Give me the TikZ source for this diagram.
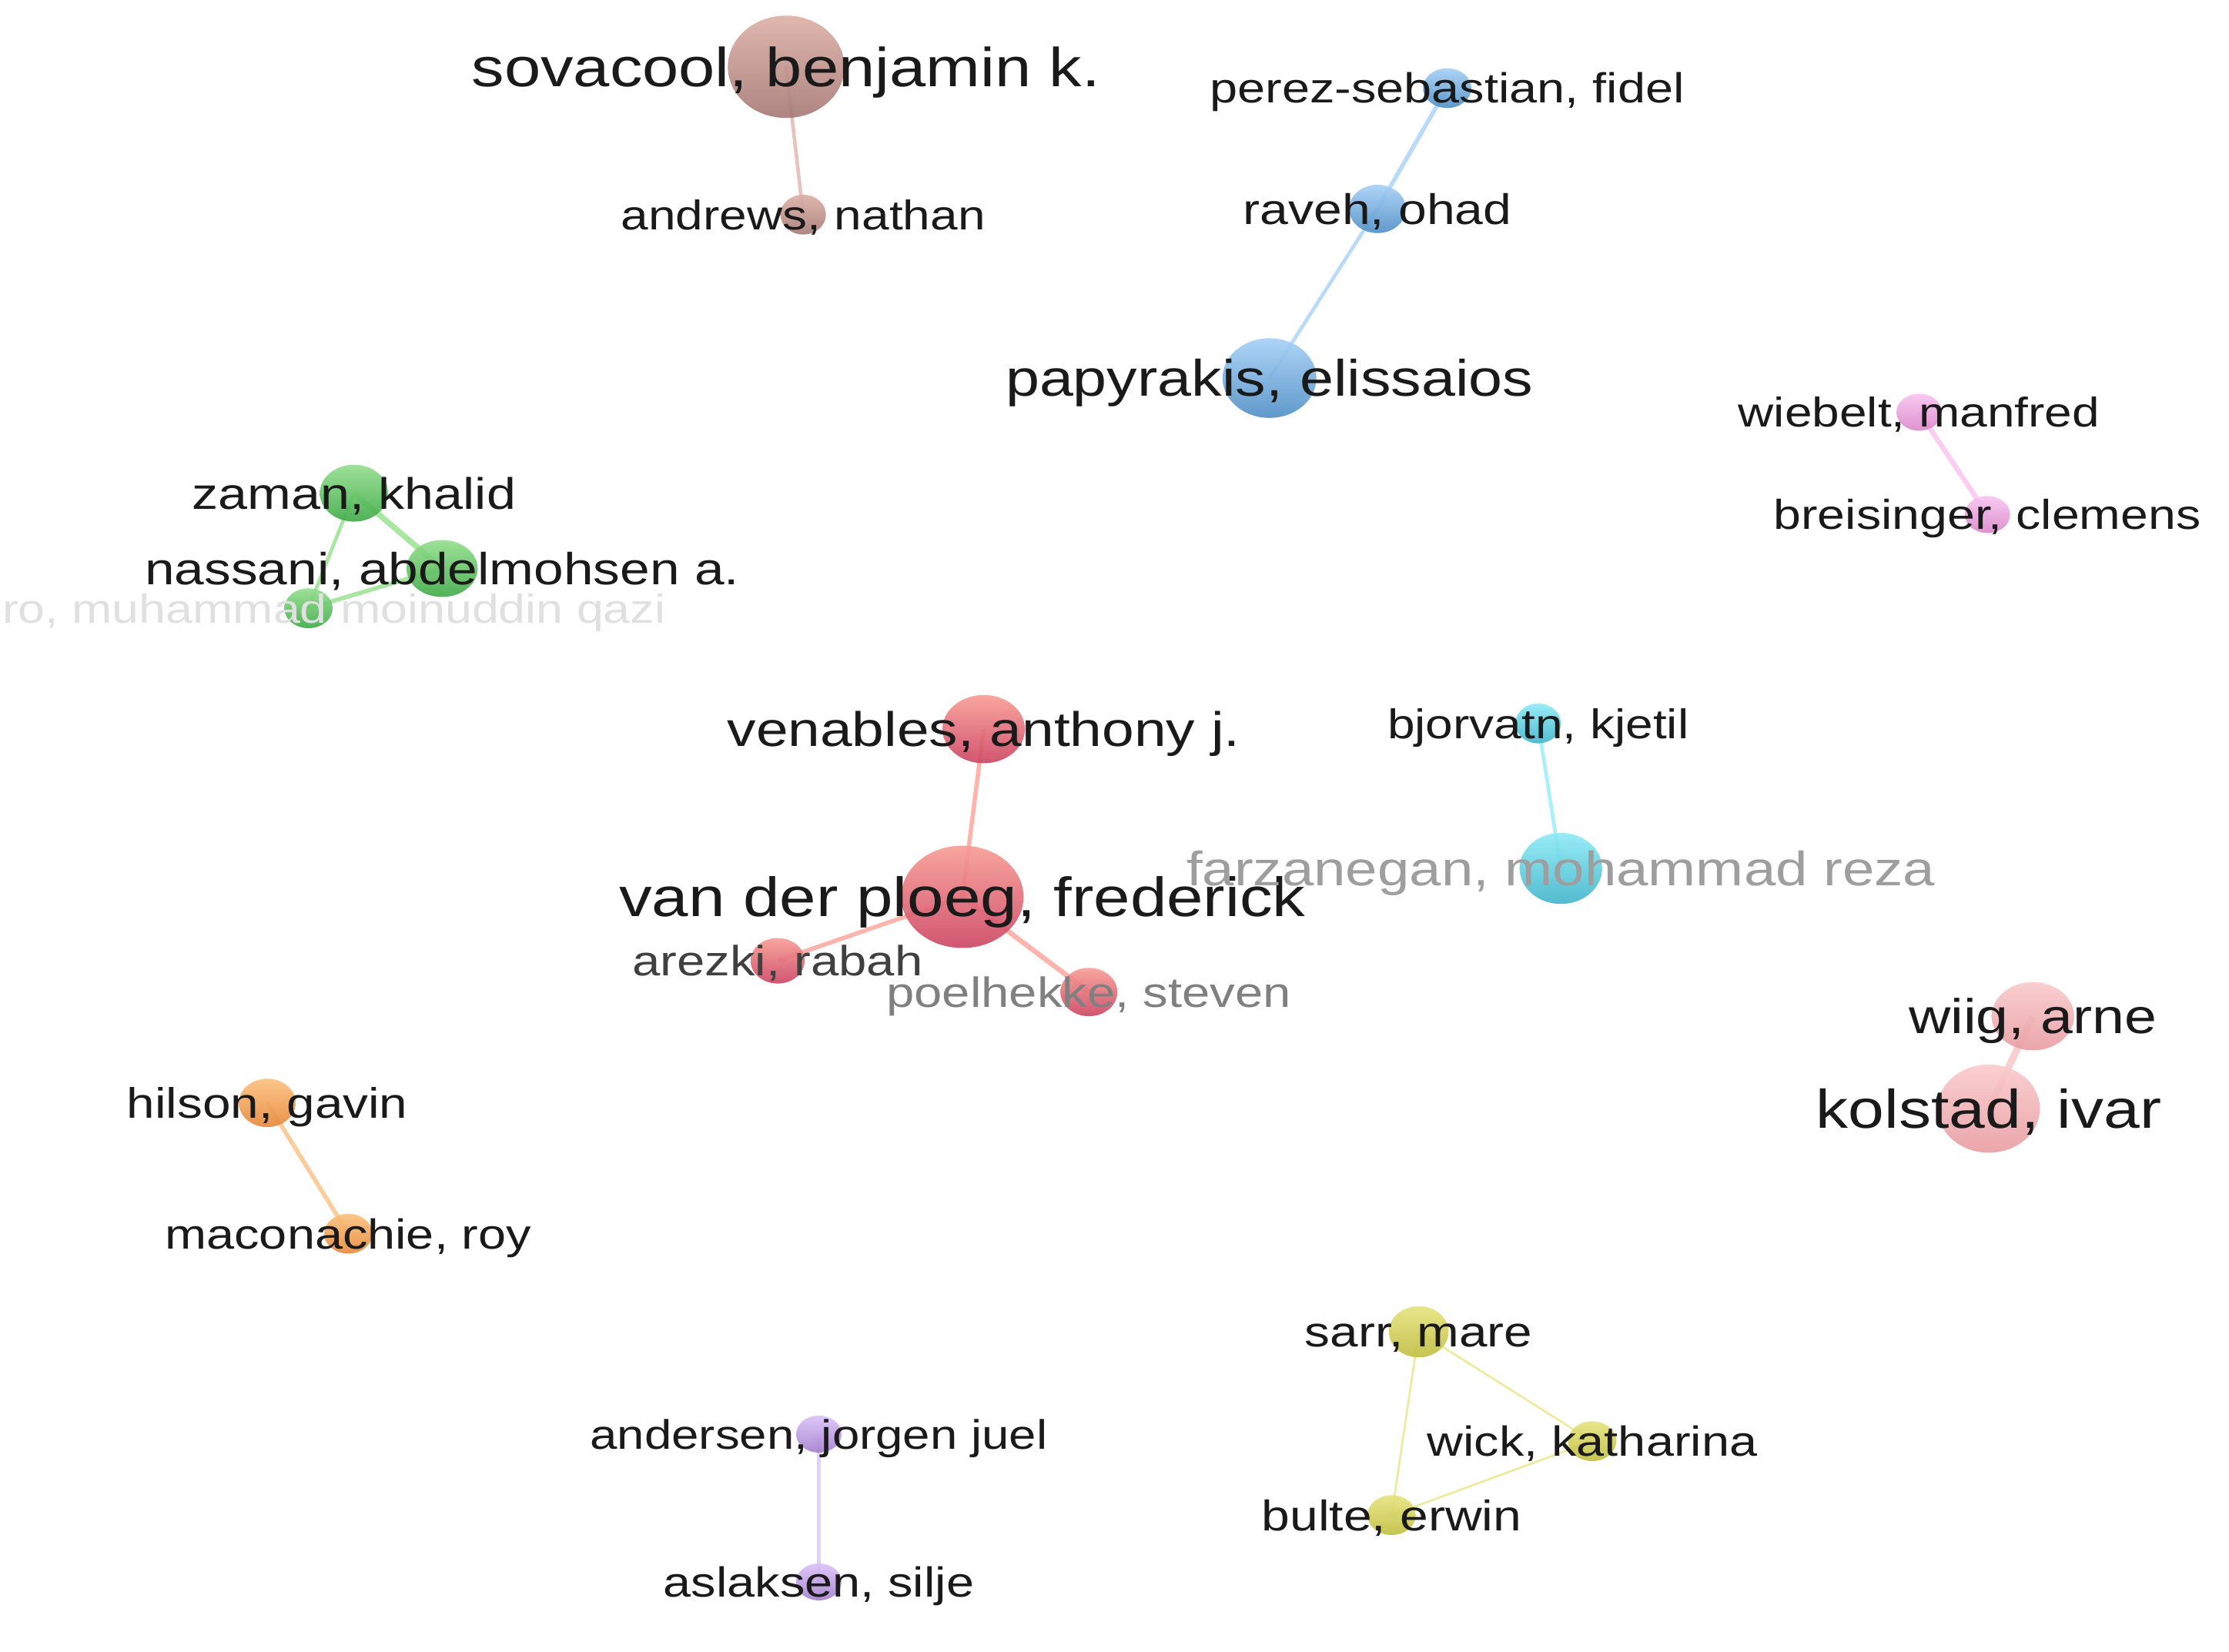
\documentclass[tikz,border=0pt]{standalone}
\usepackage{fontspec}
\setmainfont[FakeStretch=1.19]{Liberation Sans}
\usetikzlibrary{shapes.geometric}
\definecolor{brT}{HTML}{DDB0A6}\definecolor{brB}{HTML}{A67874}\definecolor{brE}{HTML}{E8C2BC}
\definecolor{buT}{HTML}{A6D0F6}\definecolor{buB}{HTML}{4E8EC6}\definecolor{buE}{HTML}{B9DAF9}
\definecolor{pkT}{HTML}{F8C4F0}\definecolor{pkB}{HTML}{DA86CA}\definecolor{pkE}{HTML}{FCCDF3}
\definecolor{grT}{HTML}{92DE8C}\definecolor{grB}{HTML}{3DAA46}\definecolor{grE}{HTML}{A9E6A2}
\definecolor{rdT}{HTML}{F99C94}\definecolor{rdB}{HTML}{CC4461}\definecolor{rdE}{HTML}{FFB3AD}
\definecolor{cyT}{HTML}{8DEAF6}\definecolor{cyB}{HTML}{3FB5CA}\definecolor{cyE}{HTML}{A8F0FA}
\definecolor{lpT}{HTML}{FACACB}\definecolor{lpB}{HTML}{E89DA2}\definecolor{lpE}{HTML}{F9D0D0}
\definecolor{orT}{HTML}{FCC07C}\definecolor{orB}{HTML}{E6883A}\definecolor{orE}{HTML}{FDCC9A}
\definecolor{ylT}{HTML}{E6E37E}\definecolor{ylB}{HTML}{C0BE3E}\definecolor{ylE}{HTML}{EDEBA2}
\definecolor{puT}{HTML}{DAC2F8}\definecolor{puB}{HTML}{A47ECE}\definecolor{puE}{HTML}{E5D0FB}
\definecolor{txt}{HTML}{1A1A1A}
\tikzset{
  vn/.style n args={4}{ellipse, draw=none, inner sep=0pt, minimum width=#1*0.018463cm,
     minimum height=#2*0.018463cm, top color=#3, bottom color=#4, fill opacity=0.9},
  ed/.style 2 args={draw=#1, line width=#2*0.5253pt},
  lbl/.style 2 args={inner sep=0pt, anchor=base, text=#2,
     font=\fontsize{#1}{#1}\selectfont, yshift=-0.358*#1},
}
\begin{document}
\begin{tikzpicture}[x=0.018463cm, y=-0.018463cm]
\useasboundingbox (0,0) rectangle (1568,1162);
\clip (0,0) rectangle (1568,1162);
\fill[white] (0,0) rectangle (1568,1162);
% nodes (coordinates)
\coordinate (sovP) at (553,47);
\coordinate (andP) at (565,151);
\coordinate (perP) at (1018,62);
\coordinate (ravP) at (969,147);
\coordinate (papP) at (893,266);
\coordinate (wieP) at (1350,290);
\coordinate (breP) at (1398,362);
\coordinate (zamP) at (249,347);
\coordinate (nasP) at (311,400);
\coordinate (abrP) at (217,428);
\coordinate (venP) at (692,513);
\coordinate (ploP) at (677,631);
\coordinate (areP) at (547,676);
\coordinate (poeP) at (766,698);
\coordinate (bjoP) at (1082,509);
\coordinate (farP) at (1098,611);
\coordinate (wiiP) at (1430,715);
\coordinate (kolP) at (1399,780);
\coordinate (hilP) at (188,776);
\coordinate (macP) at (245,868);
\coordinate (sarP) at (998,937);
\coordinate (wicP) at (1120,1014);
\coordinate (bulP) at (979,1066);
\coordinate (adsP) at (576,1009);
\coordinate (aslP) at (576,1113);
% edges
\draw[ed={brE}{2.5}] (sovP) -- (andP);
\draw[ed={buE}{3}] (perP) -- (ravP);
\draw[ed={buE}{2.5}] (ravP) -- (papP);
\draw[ed={pkE}{3.5}] (wieP) -- (breP);
\draw[ed={grE}{4}] (zamP) -- (nasP);
\draw[ed={grE}{2.5}] (zamP) -- (abrP);
\draw[ed={grE}{3}] (nasP) -- (abrP);
\draw[ed={rdE}{3}] (venP) -- (ploP);
\draw[ed={rdE}{3}] (ploP) -- (areP);
\draw[ed={rdE}{3.5}] (ploP) -- (poeP);
\draw[ed={cyE}{2.5}] (bjoP) -- (farP);
\draw[ed={lpE}{5}] (wiiP) -- (kolP);
\draw[ed={orE}{3}] (hilP) -- (macP);
\draw[ed={ylE}{1.5}] (sarP) -- (wicP);
\draw[ed={ylE}{1.5}] (sarP) -- (bulP);
\draw[ed={ylE}{1.5}] (wicP) -- (bulP);
\draw[ed={puE}{2.5}] (adsP) -- (aslP);
% circles
\node[vn={82}{72}{brT}{brB}] (sov) at (sovP) {};
\node[vn={32}{28}{brT}{brB}] (and) at (andP) {};
\node[vn={34}{28}{buT}{buB}] (per) at (perP) {};
\node[vn={40}{34}{buT}{buB}] (rav) at (ravP) {};
\node[vn={66}{56}{buT}{buB}] (pap) at (papP) {};
\node[vn={32}{26}{pkT}{pkB}] (wie) at (wieP) {};
\node[vn={32}{26}{pkT}{pkB}] (bre) at (breP) {};
\node[vn={48}{40}{grT}{grB}] (zam) at (zamP) {};
\node[vn={50}{40}{grT}{grB}] (nas) at (nasP) {};
\node[vn={34}{28}{grT}{grB}] (abr) at (abrP) {};
\node[vn={58}{48}{rdT}{rdB}] (ven) at (venP) {};
\node[vn={86}{72}{rdT}{rdB}] (plo) at (ploP) {};
\node[vn={38}{32}{rdT}{rdB}] (are) at (areP) {};
\node[vn={40}{34}{rdT}{rdB}] (poe) at (poeP) {};
\node[vn={32}{28}{cyT}{cyB}] (bjo) at (bjoP) {};
\node[vn={58}{50}{cyT}{cyB}] (far) at (farP) {};
\node[vn={58}{48}{lpT}{lpB}] (wii) at (wiiP) {};
\node[vn={72}{62}{lpT}{lpB}] (kol) at (kolP) {};
\node[vn={40}{34}{orT}{orB}] (hil) at (hilP) {};
\node[vn={34}{28}{orT}{orB}] (mac) at (macP) {};
\node[vn={42}{36}{ylT}{ylB}] (sar) at (sarP) {};
\node[vn={34}{28}{ylT}{ylB}] (wic) at (wicP) {};
\node[vn={34}{28}{ylT}{ylB}] (bul) at (bulP) {};
\node[vn={32}{26}{puT}{puB}] (ads) at (adsP) {};
\node[vn={32}{26}{puT}{puB}] (asl) at (aslP) {};
% labels
\node[lbl={20.3pt}{txt}] (sovL) at (sov) {sovacool, benjamin k.};
\node[lbl={15.3pt}{txt}] (andL) at (and) {andrews, nathan};
\node[lbl={15.5pt}{txt}] (perL) at (per) {perez-sebastian, fidel};
\node[lbl={15.8pt}{txt}] (ravL) at (rav) {raveh, ohad};
\node[lbl={18.9pt}{txt}] (papL) at (pap) {papyrakis, elissaios};
\node[lbl={15.3pt}{txt}] (wieL) at (wie) {wiebelt, manfred};
\node[lbl={15.4pt}{txt}] (breL) at (bre) {breisinger, clemens};
\node[lbl={16.3pt}{txt}] (zamL) at (zam) {zaman, khalid};
\node[lbl={16.6pt}{txt}] (nasL) at (nas) {nassani, abdelmohsen a.};
\node[lbl={15.0pt}{black!12}] (abrL) at ([xshift=-1*0.018463cm]abr) {abro, muhammad moinuddin qazi};
\node[lbl={17.9pt}{txt}] (venL) at (ven) {venables, anthony j.};
\node[lbl={20.4pt}{txt}] (ploL) at (plo) {van der ploeg, frederick};
\node[lbl={15.6pt}{black!75}] (areL) at (are) {arezki, rabah};
\node[lbl={15.6pt}{black!50}] (poeL) at (poe) {poelhekke, steven};
\node[lbl={15.3pt}{txt}] (bjoL) at (bjo) {bjorvatn, kjetil};
\node[lbl={17.8pt}{black!38}] (farL) at (far) {farzanegan, mohammad reza};
\node[lbl={18.0pt}{txt}] (wiiL) at (wii) {wiig, arne};
\node[lbl={20.1pt}{txt}] (kolL) at (kol) {kolstad, ivar};
\node[lbl={15.7pt}{txt}] (hilL) at (hil) {hilson, gavin};
\node[lbl={15.5pt}{txt}] (macL) at (mac) {maconachie, roy};
\node[lbl={15.7pt}{txt}] (sarL) at (sar) {sarr, mare};
\node[lbl={15.5pt}{txt}] (wicL) at (wic) {wick, katharina};
\node[lbl={15.8pt}{txt}] (bulL) at (bul) {bulte, erwin};
\node[lbl={15.2pt}{txt}] (adsL) at (ads) {andersen, jorgen juel};
\node[lbl={15.5pt}{txt}] (aslL) at (asl) {aslaksen, silje};
\end{tikzpicture}
\end{document}
